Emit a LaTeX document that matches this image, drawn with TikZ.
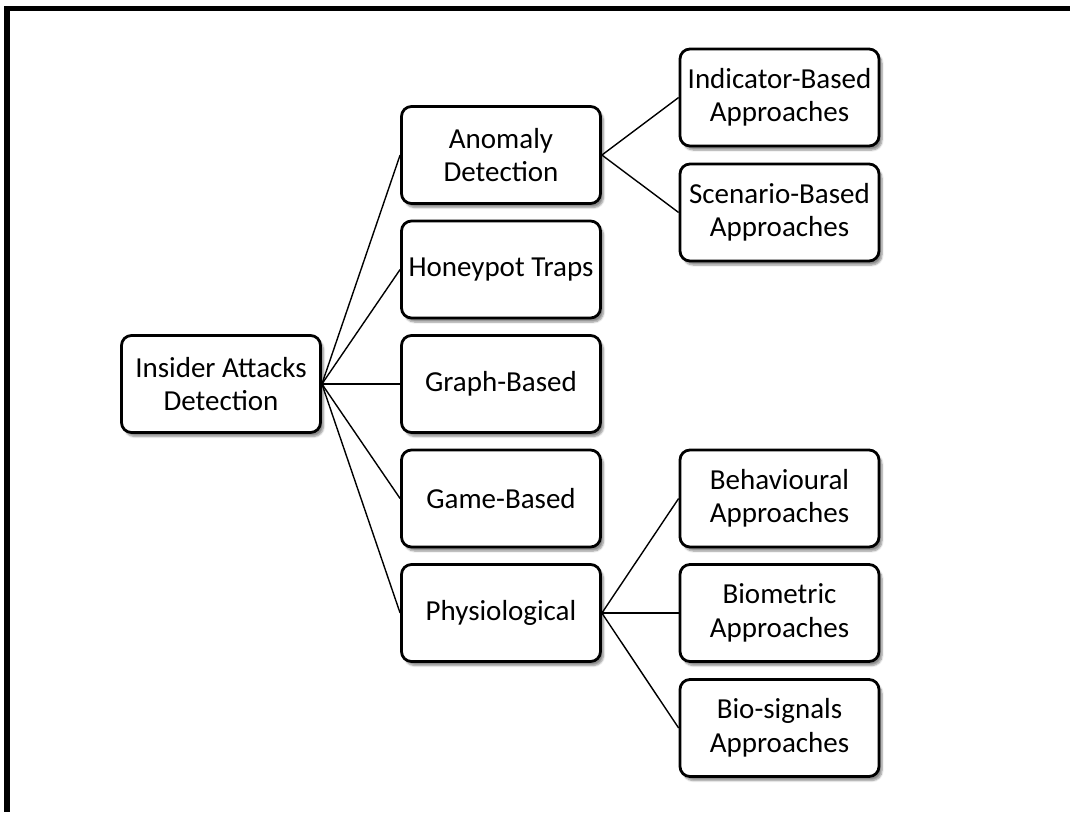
\documentclass[tikz,border=0pt]{standalone}
\usepackage{fontspec}
\setmainfont{Carlito}
\usetikzlibrary{shadows.blur}
\begin{document}
\begin{tikzpicture}[x=1pt,y=-1pt,
  box/.style={draw=black, line width=2.8pt, rounded corners=10pt, fill=white,
    minimum width=199pt, minimum height=97pt, align=center, inner sep=1pt,
    font=\fontsize{29}{33.5}\selectfont,
    blur shadow={shadow xshift=3pt, shadow yshift=-4pt, shadow blur steps=6, shadow opacity=45}},
  link/.style={draw=black, line width=1.4pt}]
  \useasboundingbox (0,0) rectangle (1070,812);
  % frame edges along the top and the left
  \fill[black] (4,6) rectangle (1070,11);
  \fill[black] (4,6) rectangle (10,812);

  % root
  \node[box] (root) at (221,384) {Insider Attacks\\Detection};
  % second level
  \node[box] (anom)  at (501,155)   {Anomaly\\Detection};
  \node[box] (honey) at (501,269.5) {Honeypot Traps};
  \node[box] (graph) at (501,384)   {Graph-Based};
  \node[box] (game)  at (501,498.5) {Game-Based};
  \node[box] (phys)  at (501,613)   {Physiological};
  % third level
  \node[box] (ind)   at (779.5,97.5)  {Indicator-Based\\Approaches};
  \node[box] (scen)  at (779.5,212.5) {Scenario-Based\\Approaches};
  \node[box] (beh)   at (779.5,498.5) {Behavioural\\Approaches};
  \node[box] (bio)   at (779.5,613)   {Biometric\\Approaches};
  \node[box] (sig)   at (779.5,728)   {Bio-signals\\Approaches};

  % connectors
  \foreach \n in {anom,honey,graph,game,phys}
    \draw[link] (root.east) -- (\n.west);
  \foreach \n in {ind,scen}
    \draw[link] (anom.east) -- (\n.west);
  \foreach \n in {beh,bio,sig}
    \draw[link] (phys.east) -- (\n.west);
\end{tikzpicture}
\end{document}
